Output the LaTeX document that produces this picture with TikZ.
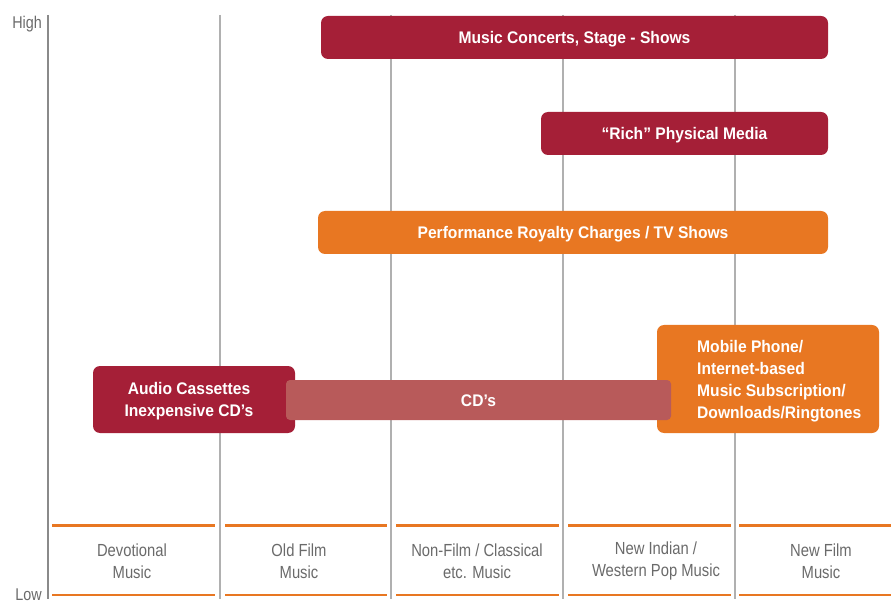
\documentclass[tikz,border=0pt]{standalone}
\usepackage{fontspec}
\setmainfont{Liberation Sans}[FakeStretch=0.93]
\newfontfamily\lblfont{Liberation Sans}[FakeStretch=0.845]
\definecolor{dred}{HTML}{A51F37}
\definecolor{orng}{HTML}{E87722}
\definecolor{cdred}{HTML}{B85A5A}
\definecolor{gline}{HTML}{B0B0B0}
\definecolor{axline}{HTML}{8A8A8A}
\definecolor{lbl}{HTML}{6A6A6A}
\tikzset{
  bar/.style={rounded corners=7pt, inner sep=0pt, text=white, font=\fontsize{16.8}{22}\selectfont\bfseries, align=center, text height=12pt, text depth=0pt},
  plainbar/.style={rounded corners=7pt, inner sep=0pt},
  collbl/.style={text=lbl, font=\lblfont\fontsize{17.5}{22}\selectfont, align=center},
  orule/.style={draw=orng, line width=2.2pt},
  vline/.style={draw=gline, line width=1.3pt},
}
\begin{document}
\begin{tikzpicture}[x=1pt,y=-1pt]
\useasboundingbox (0,0) rectangle (891,601);
% vertical lines
\draw[draw=axline, line width=1.3pt] (48,15) -- (48,599);
\foreach \xx in {220,391,563,735} \draw[vline] (\xx,15) -- (\xx,599);
% orange rules
\foreach \a/\b in {52/215,225/387,396/559,568/731,739/891} {
  \draw[orule] (\a,525.5) -- (\b,525.5);
  \draw[orule] (\a,595) -- (\b,595);
}
% axis labels
\node[text=lbl, font=\lblfont\fontsize{17}{20}\selectfont, anchor=base east, inner sep=0pt] (high) at (42,29) {High};
\node[text=lbl, font=\lblfont\fontsize{17}{20}\selectfont, anchor=base east, inner sep=0pt] (low) at (42,600) {Low};
% column labels
\node[collbl] (c1) at (132,561) {Devotional\\Music};
\node[collbl] (c2) at (299,561) {Old Film\\Music};
\node[collbl] (c3) at (477,561) {Non-Film / Classical\\etc. Music};
\node[collbl] (c4) at (656,561) {New Indian /\\Western Pop Music};
\node[collbl] (c5) at (821,561) {New Film\\Music};
% bars
\node[bar, fill=dred, minimum width=507pt, minimum height=43pt] (concerts) at (574.5,37.5) {Music Concerts, Stage - Shows};
\node[bar, fill=dred, minimum width=287pt, minimum height=43pt] (rich) at (684.5,133.5) {“Rich” Physical Media};
\node[bar, fill=orng, minimum width=510pt, minimum height=43pt] (royalty) at (573,232.5) {Performance Royalty Charges / TV Shows};
\node[plainbar, fill=dred, minimum width=202pt, minimum height=67pt] (cass) at (194,399.5) {};
\node[text=white, font=\fontsize{16.8}{22}\selectfont\bfseries, align=center] (casstxt) at (189,401) {Audio Cassettes\\Inexpensive CD’s};
\node[plainbar, fill=orng, minimum width=222pt, minimum height=108pt] (mobile) at (768,379) {};
\node[text=white, font=\fontsize{16.8}{22}\selectfont\bfseries, align=left, anchor=west, inner sep=0pt] (mobiletxt) at (697,381) {Mobile Phone/\\Internet-based\\Music Subscription/\\Downloads/Ringtones};
\node[bar, fill=cdred, rounded corners=4pt, minimum width=385pt, minimum height=40pt] (cds) at (478.5,400) {CD’s};
\end{tikzpicture}
\end{document}
